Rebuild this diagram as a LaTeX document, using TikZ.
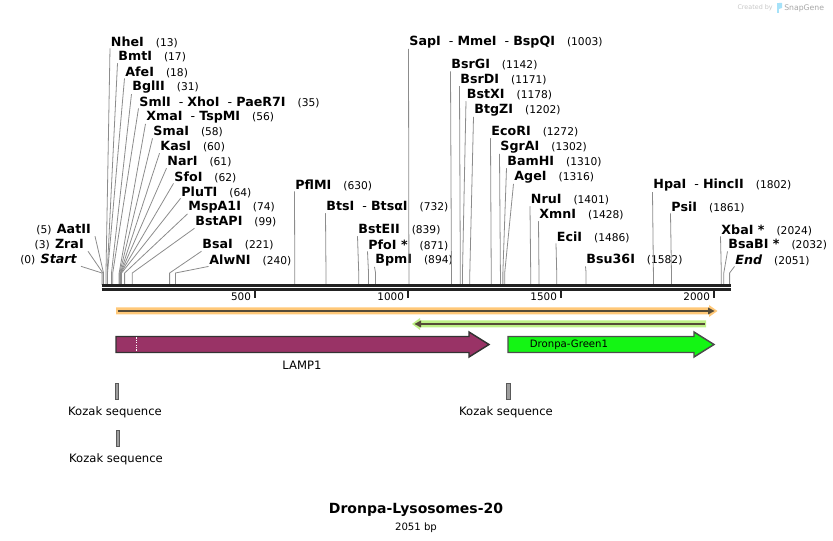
\documentclass[tikz,border=0pt]{standalone}
\usepackage{fontspec}
\setmainfont{DejaVu Sans}
\usetikzlibrary{calc}
\usetikzlibrary{positioning}

\definecolor{lampcol}{RGB}{153,51,102}
\definecolor{dronpacol}{RGB}{20,245,20}
\definecolor{orangeband}{RGB}{255,200,120}
\definecolor{greenband}{RGB}{190,240,135}
\definecolor{featline}{RGB}{85,75,55}
\definecolor{cutgray}{RGB}{140,140,140}
\definecolor{barcol}{RGB}{34,34,34}

\newcommand{\bpnum}[1]{\hspace{9pt}{\mdseries\fontsize{8}{9}\selectfont(#1)}}
\newcommand{\bpnuml}[1]{{\mdseries\fontsize{8}{9}\selectfont(#1)}\hspace{4pt}}
\newcommand{\sitedash}{{\mdseries\ \ -\ }}

\begin{document}
\begin{tikzpicture}[x=0.75pt,y=0.75pt,yscale=-1,xscale=1,
  enz/.style={anchor=west,inner sep=0.5pt,font=\fontsize{9.5}{10}\selectfont\bfseries},
  lenz/.style={anchor=east,inner xsep=3pt,inner ysep=0.5pt,font=\fontsize{9.5}{10}\selectfont\bfseries},
  cutline/.style={draw=cutgray,line width=0.6pt},
  kozak/.style={draw=black!65,fill=black!38,line width=0.6pt},
  featlabel/.style={inner sep=1pt,font=\fontsize{8.7}{10}\selectfont},
  ticklabel/.style={anchor=east,inner sep=1pt,font=\fontsize{7.8}{9}\selectfont}]
\useasboundingbox (0,0) rectangle (833,541);

%Sites on the sequence
\coordinate (startS) at (102.00,285);
\coordinate (zraS) at (102.92,285);
\coordinate (aatS) at (103.53,285);
\coordinate (nheS) at (105.98,285);
\coordinate (bmtS) at (107.20,285);
\coordinate (afeS) at (107.51,285);
\coordinate (bglS) at (111.49,285);
\coordinate (smlS) at (112.71,285);
\coordinate (xmaS) at (119.14,285);
\coordinate (smaS) at (119.75,285);
\coordinate (kasS) at (120.36,285);
\coordinate (narS) at (120.67,285);
\coordinate (sfoS) at (120.97,285);
\coordinate (pluS) at (121.58,285);
\coordinate (mspS) at (124.64,285);
\coordinate (bstapS) at (132.29,285);
\coordinate (bsaS) at (169.63,285);
\coordinate (alwS) at (175.44,285);
\coordinate (pflmS) at (294.78,285);
\coordinate (btsS) at (325.99,285);
\coordinate (bsteS) at (358.73,285);
\coordinate (pfoS) at (368.53,285);
\coordinate (bpmS) at (375.56,285);
\coordinate (sapS) at (408.92,285);
\coordinate (bsrgS) at (451.45,285);
\coordinate (bsrdS) at (460.33,285);
\coordinate (bstxS) at (462.47,285);
\coordinate (btgzS) at (469.81,285);
\coordinate (ecoS) at (491.23,285);
\coordinate (sgraS) at (500.41,285);
\coordinate (bamS) at (502.86,285);
\coordinate (ageS) at (504.70,285);
\coordinate (nruS) at (530.71,285);
\coordinate (xmnS) at (538.97,285);
\coordinate (eciS) at (556.72,285);
\coordinate (bsuS) at (586.09,285);
\coordinate (hpaS) at (653.41,285);
\coordinate (psiS) at (671.47,285);
\coordinate (xbaS) at (721.34,285);
\coordinate (bsabS) at (723.79,285);
\coordinate (endS) at (729.61,285);

% Enzyme labels, left cluster
\node [lenz] (aat) at (95,230) {\bpnuml{5}AatII};
\node [lenz] (zra) at (88,245) {\bpnuml{3}ZraI};
\node [lenz] (start) at (81,260) {\bpnuml{0}\itshape Start};
\node [enz] (nhe) at (110,42) {NheI\bpnum{13}};
\node [enz] (bmt) at (117.5,57) {BmtI\bpnum{17}};
\node [enz] (afe) at (124.5,72) {AfeI\bpnum{18}};
\node [enz] (bgl) at (131.5,87) {BglII\bpnum{31}};
\node [enz] (sml) at (138.5,102) {SmlI\sitedash XhoI\sitedash PaeR7I\bpnum{35}};
\node [enz] (xma) at (145.5,117) {XmaI\sitedash TspMI\bpnum{56}};
\node [enz] (sma) at (152.5,132) {SmaI\bpnum{58}};
\node [enz] (kas) at (159.5,147) {KasI\bpnum{60}};
\node [enz] (nar) at (166.5,162) {NarI\bpnum{61}};
\node [enz] (sfo) at (173.5,177) {SfoI\bpnum{62}};
\node [enz] (plu) at (180.5,192) {PluTI\bpnum{64}};
\node [enz] (msp) at (187.5,207) {MspA1I\bpnum{74}};
\node [enz] (bstap) at (194.5,222) {BstAPI\bpnum{99}};
\node [enz] (bsa) at (201.5,245) {BsaI\bpnum{221}};
\node [enz] (alw) at (208.5,260) {AlwNI\bpnum{240}};

% Enzyme labels, middle
\node [enz] (pflm) at (294.5,185) {PflMI\bpnum{630}};
\node [enz] (bts) at (325.5,207) {BtsI\sitedash BtsαI\bpnum{732}};
\node [enz] (bste) at (357.5,230) {BstEII\bpnum{839}};
\node [enz] (pfo) at (367.5,245) {PfoI *\bpnum{871}};
\node [enz] (bpm) at (374.5,260) {BpmI\bpnum{894}};
\node [enz] (sap) at (408.5,42) {SapI\sitedash MmeI\sitedash BspQI\bpnum{1003}};
\node [enz] (bsrg) at (450.5,65) {BsrGI\bpnum{1142}};
\node [enz] (bsrd) at (459.5,80) {BsrDI\bpnum{1171}};
\node [enz] (bstx) at (466,95) {BstXI\bpnum{1178}};
\node [enz] (btgz) at (473.5,110) {BtgZI\bpnum{1202}};
\node [enz] (eco) at (490.5,132) {EcoRI\bpnum{1272}};
\node [enz] (sgra) at (499.5,147) {SgrAI\bpnum{1302}};
\node [enz] (bam) at (506.5,162) {BamHI\bpnum{1310}};
\node [enz] (age) at (513.5,177) {AgeI\bpnum{1316}};
\node [enz] (nru) at (530,200) {NruI\bpnum{1401}};
\node [enz] (xmn) at (538.5,215) {XmnI\bpnum{1428}};
\node [enz] (eci) at (556,237) {EciI\bpnum{1486}};
\node [enz] (bsu) at (585.5,260) {Bsu36I\bpnum{1582}};

% Enzyme labels, right
\node [enz] (hpa) at (652.5,185) {HpaI\sitedash HincII\bpnum{1802}};
\node [enz] (psi) at (670.5,207) {PsiI\bpnum{1861}};
\node [enz] (xba) at (720.5,230) {XbaI *\bpnum{2024}};
\node [enz] (bsab) at (727.5,245) {BsaBI *\bpnum{2032}};
\node [enz] (endd) at (734.5,260) {{\itshape End}\bpnum{2051}};

% Connectors from labels to sites
\draw [cutline] (aat.south east) -- ([yshift=-9pt]aatS) -- (aatS);
\draw [cutline] (zra.south east) -- ([yshift=-9pt]zraS) -- (zraS);
\draw [cutline] (start.south east) -- ([yshift=-9pt]startS) -- (startS);
\draw [cutline] (nhe.south west) -- ([yshift=-9pt]nheS) -- (nheS);
\draw [cutline] (bmt.south west) -- ([yshift=-9pt]bmtS) -- (bmtS);
\draw [cutline] (afe.south west) -- ([yshift=-9pt]afeS) -- (afeS);
\draw [cutline] (bgl.south west) -- ([yshift=-9pt]bglS) -- (bglS);
\draw [cutline] (sml.south west) -- ([yshift=-9pt]smlS) -- (smlS);
\draw [cutline] (xma.south west) -- ([yshift=-9pt]xmaS) -- (xmaS);
\draw [cutline] (sma.south west) -- ([yshift=-9pt]smaS) -- (smaS);
\draw [cutline] (kas.south west) -- ([yshift=-9pt]kasS) -- (kasS);
\draw [cutline] (nar.south west) -- ([yshift=-9pt]narS) -- (narS);
\draw [cutline] (sfo.south west) -- ([yshift=-9pt]sfoS) -- (sfoS);
\draw [cutline] (plu.south west) -- ([yshift=-9pt]pluS) -- (pluS);
\draw [cutline] (msp.south west) -- ([yshift=-9pt]mspS) -- (mspS);
\draw [cutline] (bstap.south west) -- ([yshift=-9pt]bstapS) -- (bstapS);
\draw [cutline] (bsa.south west) -- ([yshift=-9pt]bsaS) -- (bsaS);
\draw [cutline] (alw.south west) -- ([yshift=-9pt]alwS) -- (alwS);
\draw [cutline] (pflm.south west) -- ([yshift=-9pt]pflmS) -- (pflmS);
\draw [cutline] (bts.south west) -- ([yshift=-9pt]btsS) -- (btsS);
\draw [cutline] (bste.south west) -- ([yshift=-9pt]bsteS) -- (bsteS);
\draw [cutline] (pfo.south west) -- ([yshift=-9pt]pfoS) -- (pfoS);
\draw [cutline] (bpm.south west) -- ([yshift=-9pt]bpmS) -- (bpmS);
\draw [cutline] (sap.south west) -- ([yshift=-9pt]sapS) -- (sapS);
\draw [cutline] (bsrg.south west) -- ([yshift=-9pt]bsrgS) -- (bsrgS);
\draw [cutline] (bsrd.south west) -- ([yshift=-9pt]bsrdS) -- (bsrdS);
\draw [cutline] (bstx.south west) -- ([yshift=-9pt]bstxS) -- (bstxS);
\draw [cutline] (btgz.south west) -- ([yshift=-9pt]btgzS) -- (btgzS);
\draw [cutline] (eco.south west) -- ([yshift=-9pt]ecoS) -- (ecoS);
\draw [cutline] (sgra.south west) -- ([yshift=-9pt]sgraS) -- (sgraS);
\draw [cutline] (bam.south west) -- ([yshift=-9pt]bamS) -- (bamS);
\draw [cutline] (age.south west) -- ([yshift=-9pt]ageS) -- (ageS);
\draw [cutline] (nru.south west) -- ([yshift=-9pt]nruS) -- (nruS);
\draw [cutline] (xmn.south west) -- ([yshift=-9pt]xmnS) -- (xmnS);
\draw [cutline] (eci.south west) -- ([yshift=-9pt]eciS) -- (eciS);
\draw [cutline] (bsu.south west) -- ([yshift=-9pt]bsuS) -- (bsuS);
\draw [cutline] (hpa.south west) -- ([yshift=-9pt]hpaS) -- (hpaS);
\draw [cutline] (psi.south west) -- ([yshift=-9pt]psiS) -- (psiS);
\draw [cutline] (xba.south west) -- ([yshift=-9pt]xbaS) -- (xbaS);
\draw [cutline] (bsab.south west) -- ([yshift=-9pt]bsabS) -- (bsabS);
\draw [cutline] (endd.south west) -- ([yshift=-9pt]endS) -- (endS);

%Sequence bar
\draw [barcol,line width=2.3pt] (101.7,285.7) -- (730.7,285.7) ;
\draw [barcol,line width=2.3pt] (101.7,289.7) -- (730.7,289.7) ;

%Ticks
\draw [barcol,line width=1.5pt] (255,291) -- (255,298) ;
\draw [barcol,line width=1.5pt] (408,291) -- (408,298) ;
\draw [barcol,line width=1.5pt] (561,291) -- (561,298) ;
\draw [barcol,line width=1.5pt] (714,291) -- (714,298) ;
\node [ticklabel] (t500) at (252.5,297) {500};
\node [ticklabel] (t1000) at (405.5,297) {1000};
\node [ticklabel] (t1500) at (558.5,297) {1500};
\node [ticklabel] (t2000) at (711.5,297) {2000};

%Forward line
\fill [orangeband] (116,307.5) -- (709,307.5) -- (709,305) -- (717.5,311) -- (709,317) -- (709,314.5) -- (116,314.5) -- cycle ;
\draw [featline,line width=1.5pt] (117.5,311) -- (710,311) ;
\fill [featline] (708,307.5) -- (714.5,311) -- (708,314.5) -- cycle ;

%Reverse line
\fill [greenband] (706,320.5) -- (420,320.5) -- (420,318) -- (412,324) -- (420,330) -- (420,327.5) -- (706,327.5) -- cycle ;
\draw [featline,line width=1.5pt] (704.5,324) -- (418,324) ;
\fill [featline] (421,320.5) -- (414.5,324) -- (421,327.5) -- cycle ;

%LAMP1
\draw [draw=black!80,fill=lampcol,line width=1.1pt] (116,336.5) -- (469,336.5) -- (469,332) -- (489,344.5) -- (469,357) -- (469,352.5) -- (116,352.5) -- cycle ;
\draw [white,line width=0.8pt,densely dotted] (136.3,337.5) -- (136.3,351.5) ;
\node [featlabel] (lamp) at (302,365) {LAMP1};

%Dronpa-Green1
\draw [draw=black!70,fill=dronpacol,line width=1.1pt] (508,336.5) -- (694,336.5) -- (694,332) -- (714,344.5) -- (694,357) -- (694,352.5) -- (508,352.5) -- cycle ;
\node [inner sep=1pt,font=\fontsize{7.6}{9}\selectfont] (dronpa) at (569,344.5) {Dronpa-Green1};

%Kozak sequences
\draw [kozak] (115.2,383.3) rectangle (118.8,399.3) ;
\node [featlabel] (koz1) at (115,412.5) {Kozak sequence};
\draw [kozak] (116.2,430) rectangle (119.8,446) ;
\node [featlabel] (koz2) at (116,459.5) {Kozak sequence};
\draw [kozak] (506.4,383.3) rectangle (510,399.3) ;
\node [featlabel] (koz3) at (506,412.5) {Kozak sequence};

%Title
\node [font=\fontsize{10.5}{12}\selectfont\bfseries] (title) at (416,510) {Dronpa-Lysosomes-20};
\node [font=\fontsize{7.6}{9}\selectfont,below=0pt of title,inner sep=1pt] (size) {2051 bp};

%SnapGene credit
\node [anchor=east,inner sep=0pt,text=black!22,font=\fontsize{4.8}{6}\selectfont] (credit) at (773,8) {Created by};
\fill [cyan!35] (776.5,3) rectangle (779,13) ;
\fill [cyan!35] (779,3) -- (782,3) -- (782,8) -- (779,9) -- cycle ;
\node [anchor=west,inner sep=0pt,text=black!35,font=\fontsize{5.8}{7}\selectfont] (snapgene) at (784,8) {SnapGene};

\end{tikzpicture}
\end{document}
